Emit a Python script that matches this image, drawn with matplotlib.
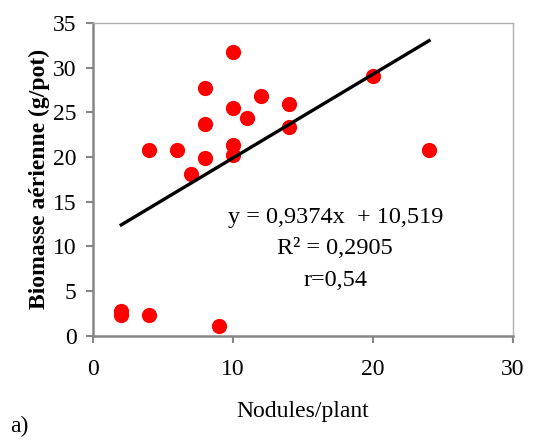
import matplotlib
matplotlib.use("Agg")
from matplotlib.pyplot import subplots
from numpy import array

# Nodules per plant vs aerial biomass (g/pot)
nodules = [2, 2, 4, 9, 10, 8, 12, 14, 10, 11, 8, 14, 4, 6, 10, 10, 8, 7, 20, 24]
biomass = [2.8, 2.3, 2.3, 1.1, 31.7, 27.7, 26.8, 25.9, 25.5, 24.4, 23.7, 23.4,
           20.8, 20.8, 21.3, 20.2, 19.9, 18.1, 29.1, 20.8]
slope = 0.9374
intercept = 10.519
xticks = [0, 10, 20, 30]
yticks = [0, 5, 10, 15, 20, 25, 30, 35]

matplotlib.rcParams["font.family"] = ["Liberation Serif", "DejaVu Serif"]

fig, ax = subplots(figsize=(5.33, 4.41), dpi=100)
fig.subplots_adjust(left=0.175, right=0.9625, bottom=0.239, top=0.948)

ax.scatter(nodules, biomass, s=120, color="#ff0000", zorder=3, linewidths=0)

xs = array([min(nodules), max(nodules)])
ax.plot(xs, slope * xs + intercept, color="black", linewidth=2.4, zorder=4)

ax.text(17.3, 13.2, "y = 0,9374x  + 10,519", ha="center", va="center", fontsize=17.5)
ax.text(17.3, 9.7, "R² = 0,2905", ha="center", va="center", fontsize=17.5)
ax.text(17.3, 6.2, "r=0,54", ha="center", va="center", fontsize=17.5)

# Aesthetics
ax.set_xlim(0, 30)
ax.set_ylim(0, 35)
ax.set_xticks(xticks)
ax.set_yticks(yticks)
ax.tick_params(labelsize=17, color="#868686", width=1.5, length=5, direction="out")
ax.tick_params(axis="x", pad=12)
ax.tick_params(axis="y", pad=7)
for side in ["left", "bottom"]:
    ax.spines[side].set_color("#868686")
    ax.spines[side].set_linewidth(1.8)
for side in ["top", "right"]:
    ax.spines[side].set_color("#b0b0b0")
    ax.spines[side].set_linewidth(1.0)

ax.set_ylabel("Biomasse aérienne (g/pot)", fontsize=17, fontweight="bold", labelpad=2)
fig.text(0.568, 0.066, "Nodules/plant", ha="center", va="center", fontsize=17)
fig.text(0.036, 0.032, "a)", ha="center", va="center", fontsize=17)

fig.savefig("out.png", dpi=100)
